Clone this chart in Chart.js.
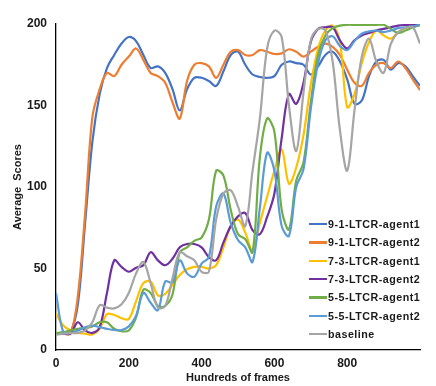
<!DOCTYPE html>
<html>
<head>
<meta charset="utf-8">
<script src="https://cdn.jsdelivr.net/npm/chart.js@4.4.0/dist/chart.umd.min.js"></script>
<style>
  body { margin: 0; background: #fff; }
  #wrap { position: relative; width: 436px; height: 386px; }
  #legend {
    position: absolute; left: 309px; top: 215px;
    font: bold 10.7px "Liberation Sans", Arial, sans-serif;
    letter-spacing: 0.5px; color: #1a1a1a;
  }
  #legend .row { display: flex; align-items: center; height: 18.33px; white-space: nowrap; }
  #legend .sw { width: 18px; height: 2.5px; margin-right: 1px; }
</style>
</head>
<body>
<div id="wrap">
  <canvas id="chart" width="436" height="386"></canvas>
  <div id="legend"></div>
</div>
<script>
// x positions (hundreds of frames)
const frames = [0, 20, 40, 60, 80, 100, 120, 140, 160, 180, 200, 220, 240, 260, 280, 300, 320, 340, 360, 380,
  400, 420, 440, 460, 480, 500, 520, 540, 560, 580, 600, 620, 640, 660, 680, 700, 720, 740, 760, 780,
  800, 820, 840, 860, 880, 900, 920, 940, 960, 980, 1000];

const ltcr91a1 = [10, 10, 11, 28, 78, 128, 157, 173, 181, 188, 192, 189.5, 181, 173, 174, 170, 160, 147, 160, 167,
  167, 165, 162, 171, 181, 183, 175, 169, 167.5, 167, 168, 175, 177, 176, 175, 169, 174, 181, 183, 177,
  166, 151, 153, 168, 177, 178, 172, 176, 174, 168, 162];
const ltcr91a2 = [10, 10, 10, 33, 84, 143, 160, 170, 168, 175, 180, 185, 178, 170, 168, 164, 152, 142, 165, 175,
  176, 174, 167, 175, 183, 184, 181, 181, 184, 183, 181.6, 182, 184.5, 183, 180, 183, 186, 188, 186, 181,
  172, 164, 162, 170, 175, 176, 173, 177, 173, 166, 159.5];
const ltcr73a1 = [22.5, 15, 12, 10.5, 10, 9.5, 13, 22, 21.5, 19.5, 19, 30, 41, 42, 33.5, 34.5, 40, 46, 49.5, 51,
  51, 50, 52, 63, 76, 80, 72, 61, 78, 94, 110, 123, 102, 112, 132, 163, 185, 196, 199, 189,
  149, 157, 176, 189, 196, 193, 191, 195, 197.5, 198.5, 199];
const ltcr73a2 = [10, 10, 10, 17, 12, 10.5, 14, 35, 55, 51, 48, 50.5, 52, 60, 55, 52, 56, 63, 65, 65,
  63, 57, 55, 66, 76, 82, 84, 73.5, 71, 81.6, 96, 130, 157, 151, 164, 189, 197, 198, 198, 190,
  185, 190, 193, 194.5, 196, 197, 198, 199, 199.4, 199.5, 199.5];
const ltcr55a1 = [10.4, 11, 12, 13, 13.5, 14.5, 17, 17, 13, 11.5, 12, 20, 37, 35, 27, 27, 34, 60, 63, 67,
  69, 80, 110, 107, 86, 71, 68, 60, 118, 142, 134, 86, 74, 104, 115, 152, 181, 193, 197.5, 199,
  199.5, 199.5, 199.5, 199.5, 199.5, 199.5, 197, 194.5, 196, 198, 199.5];
const ltcr55a2 = [35, 11, 10.5, 12, 14, 15, 14, 13, 12.3, 12.3, 14.5, 21, 35, 29, 24.5, 42, 41.5, 55, 47, 45,
  53, 57, 88, 96, 78, 67.5, 63, 54, 87, 121, 110, 76, 70, 100, 111, 148, 176, 190, 192.5, 186.5,
  184, 189.5, 194, 195.5, 196, 195, 196, 197.5, 198, 198.5, 199.5];
const baseline = [9.2, 10, 10.4, 10.5, 12, 17, 27.5, 26, 25.5, 28, 35, 47, 54, 41, 26, 27, 44, 60, 57.5, 55,
  48, 48, 80, 96, 98, 88, 76, 110, 142, 185, 196, 192, 150, 122, 158, 190, 197, 196, 177, 135,
  110, 147, 180, 191, 177, 170, 188, 195, 197.5, 198, 188];

const seriesNames = ['9-1-LTCR-agent1', '9-1-LTCR-agent2', '7-3-LTCR-agent1', '7-3-LTCR-agent2',
  '5-5-LTCR-agent1', '5-5-LTCR-agent2', 'baseline'];
const seriesData = [ltcr91a1, ltcr91a2, ltcr73a1, ltcr73a2, ltcr55a1, ltcr55a2, baseline];
const seriesColors = ['#4472C4', '#ED7D31', '#FFC000', '#7030A0', '#70AD47', '#5B9BD5', '#A5A5A5'];

const fontFam = '"Liberation Sans", Arial, sans-serif';
const textColor = '#1a1a1a';

// datasets: later series drawn on top, like the original
const datasets = seriesData.map((vals, i) => ({
  label: seriesNames[i],
  data: frames.map((x, j) => ({ x: x, y: vals[j] })),
  borderColor: seriesColors[i],
  backgroundColor: seriesColors[i],
  order: seriesData.length - 1 - i
}));

new Chart(document.getElementById('chart').getContext('2d'), {
  type: 'line',
  data: { datasets: datasets },
  options: {
    responsive: false,
    animation: false,
    layout: { padding: { top: 24, right: 16, left: 0, bottom: 0 } },
    plugins: { legend: { display: false }, tooltip: { enabled: false } },
    elements: {
      point: { radius: 0 },
      line: { borderWidth: 2.2, tension: 0.35 }
    },
    scales: {
      x: {
        type: 'linear', min: 0, max: 1000,
        grid: { display: false, drawTicks: false },
        border: { display: true, color: '#000', width: 1.3 },
        ticks: {
          stepSize: 200, padding: 6, maxRotation: 0, color: textColor,
          font: { family: fontFam, size: 12, weight: 'bold' },
          callback: v => (v < 1000 ? v : '')
        },
        title: {
          display: true, text: 'Hundreds of frames', color: textColor,
          font: { family: fontFam, size: 11, weight: 'bold' },
          padding: { top: 0, bottom: 1 }
        },
        afterFit: s => { s.height = 36; }
      },
      y: {
        min: 0, max: 200,
        grid: { display: false, drawTicks: false },
        border: { display: true, color: '#000', width: 1.3 },
        ticks: {
          stepSize: 50, padding: 9, color: textColor,
          font: { family: fontFam, size: 12, weight: 'bold' }
        },
        title: {
          display: true, text: 'Average  Scores', color: textColor,
          font: { family: fontFam, size: 11, weight: 'bold' },
          padding: { top: 11, bottom: 0 }
        },
        afterFit: s => { s.width = 56; }
      }
    }
  }
});

// legend sits inside the plot, bottom right
const legend = document.getElementById('legend');
seriesNames.forEach((name, i) => {
  const row = document.createElement('div');
  row.className = 'row';
  const sw = document.createElement('span');
  sw.className = 'sw';
  sw.style.background = seriesColors[i];
  const txt = document.createElement('span');
  txt.textContent = name;
  row.appendChild(sw);
  row.appendChild(txt);
  legend.appendChild(row);
});
</script>
</body>
</html>
